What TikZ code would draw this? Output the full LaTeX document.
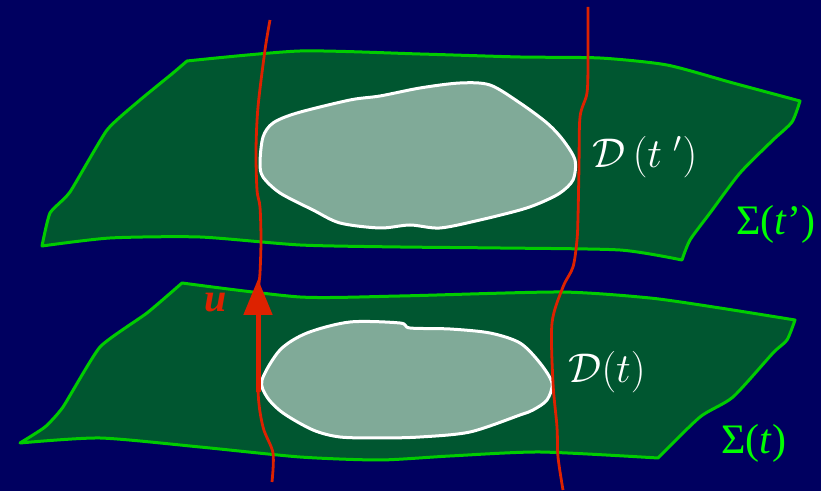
\documentclass[tikz,border=0pt]{standalone}
\usepackage{fontspec}
\newfontfamily\timesfont{Liberation Serif}
\usetikzlibrary{arrows.meta}
\definecolor{fundo}{RGB}{0,0,96}
\definecolor{verdefolha}{RGB}{0,86,48}
\definecolor{verdeborda}{RGB}{0,204,0}
\definecolor{verderegiao}{RGB}{128,170,152}
\definecolor{vermelho}{RGB}{221,34,0}
\definecolor{verdetexto}{RGB}{0,255,0}
\tikzset{every picture/.style={line width=0.75pt}}

\begin{document}
\begin{tikzpicture}[x=0.5pt, y=-0.5pt,
    folha/.style={draw=verdeborda, fill=verdefolha, line width=1.5pt, line join=round},
    regiao/.style={draw=white, fill=verderegiao, line width=1.5pt},
    linhamundo/.style={draw=vermelho, line width=1.4pt},
    rotulo/.style={text=white, font=\fontsize{20}{24}\selectfont, inner sep=0pt},
    rotsigma/.style={text=verdetexto, font=\fontsize{21}{25}\timesfont, inner sep=0pt}]
        % fundo
        \fill[fundo] (0,0) rectangle (821,491);
        \useasboundingbox (0,0) rectangle (821,491);
        % folha de cima, Sigma(t')
        \path[folha] plot[smooth, tension=0.4] coordinates {(187,61) (300,51) (420,54) (520,57) (600,58) (667,65) (733,83) (800,101)}
            -- plot[smooth, tension=0.4] coordinates {(800,101) (792,122) (773,140) (740,173) (710,213) (690,240) (682,260)}
            -- plot[smooth, tension=0.4] coordinates {(682,260) (620,250) (500,248) (400,247) (300,245) (200,237) (110,238) (42,246)}
            -- plot[smooth, tension=0.3] coordinates {(42,246) (50,213) (70,192) (107,130) (140,100) (173,73) (187,61)} -- cycle;
        % folha de baixo, Sigma(t)
        \path[folha] plot[smooth, tension=0.4] coordinates {(182,283) (300,297) (400,296) (560,292) (650,298) (720,308) (795,320)}
            -- plot[smooth, tension=0.4] coordinates {(795,320) (787,340) (773,353) (733,397) (700,417) (658,458)}
            -- plot[smooth, tension=0.4] coordinates {(658,458) (540,452) (450,456) (380,460) (300,457) (200,447) (100,438) (20,443)}
            -- plot[smooth, tension=0.3] coordinates {(20,443) (45,427) (63,407) (100,347) (147,313) (182,283)} -- cycle;
        % regioes D(t') e D(t)
        \path[regiao] plot[smooth cycle] coordinates {(260,163) (263,137) (273,123) (297,113) (350,100) (380,96) (420,88) (460,83) (490,85) (520,103) (547,123) (563,140) (575,160) (573,180) (560,193) (540,203) (520,210) (480,220) (440,228) (410,225) (380,228) (340,223) (313,210) (280,193) (263,177)};
        \path[regiao] plot[smooth cycle] coordinates {(262,380) (267,397) (283,413) (313,430) (340,437) (380,438) (420,437) (470,432) (520,415) (533,410) (547,400) (552,383) (540,363) (520,343) (490,333) (450,329) (410,328) (400,323) (350,322) (307,333) (280,350)};
        % linhas de mundo
        \draw[linhamundo] plot[smooth] coordinates {(270,20) (265,50) (258,107) (256,150) (257,190) (260,207) (261,240) (260,273) (258,300) (258,390) (263,427) (273,453) (272,482)};
        \draw[linhamundo] plot[smooth] coordinates {(588,7) (588,60) (587,93) (580,117) (579,167) (578,217) (577,240) (573,267) (563,287) (552,323) (553,383) (557,427) (558,457) (563,490)};
        % quadrivelocidade u
        \coordinate (ubase) at (258,392);
        \coordinate (utopo) at (258,279);
        \draw[vermelho, line width=2.5pt, -{Triangle[length=18pt, width=14pt]}] (ubase) -- (utopo);
        \node[text=vermelho, font=\fontsize{20}{24}\timesfont\bfseries\itshape, inner sep=0pt] (u) at (216,303) {u};
        % rotulos
        \node[rotulo] (dcima) at (645,157) {$\mathcal{D}\,(t\;')$};
        \node[rotulo] (dbaixo) at (607,372) {$\mathcal{D}(t)$};
        \node[rotsigma] (scima) at (776,224) {Σ(\textit{t}’)};
        \node[rotsigma] (sbaixo) at (754,443) {Σ(\textit{t})};
    \end{tikzpicture}
\end{document}
